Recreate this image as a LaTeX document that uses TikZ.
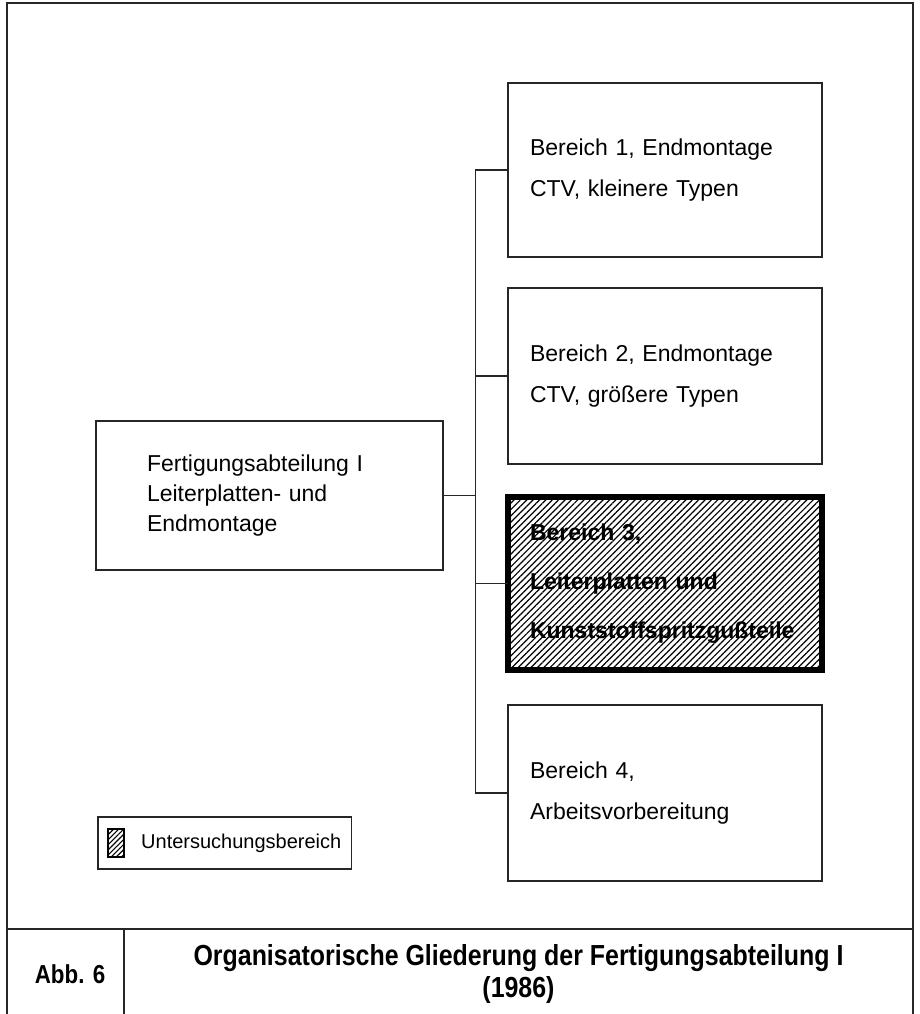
\documentclass[tikz,border=0pt]{standalone}
\usepackage{fontspec}
\setmainfont{Liberation Sans}
\newfontfamily\capfont[FakeStretch=0.86]{Liberation Sans}
\usetikzlibrary{%
	positioning,
	fit,
	calc,
	patterns.meta
}

\begin{document}
\begin{tikzpicture}[x=1pt,y=-1pt,
		bereich/.style={draw=black!85,line width=1.3pt,shape=rectangle,outer sep=0pt,minimum width=314pt,minimum height=176pt,text width=270pt,inner xsep=22pt,align=left,font=\fontsize{23}{41}\selectfont},
		focus/.style={bereich,draw=black,line width=6.5pt,pattern={Lines[angle=45,distance=4.5pt,line width=1.2pt]},font=\fontsize{23}{49}\selectfont\bfseries},
		swatch/.style={draw=black,line width=2.5pt,outer sep=0pt,minimum width=16pt,minimum height=28pt,pattern={Lines[angle=45,distance=3.6pt,line width=1.1pt]}},
		link/.style={draw=black!85,line width=1.2pt},
		outside/.style={draw=black!85,line width=1.3pt},
		caption/.style={font=\capfont\bfseries\fontsize{29}{32}\selectfont,align=center,inner sep=0pt}
	]
	\useasboundingbox (0,0) rectangle (919,1014);

	% frame and caption row
	\draw[outside] (7,1014) |- (913,3) -- (913,1014);
	\draw[outside] (7,929) -- (913,929);
	\draw[outside] (124,929) -- (124,1014);
	\node(abb) [caption, font=\capfont\bfseries\fontsize{26}{30}\selectfont] at (70,974) {Abb. 6};
	\node(title) [caption] at (518.5,974) {Organisatorische Gliederung der Fertigungsabteilung I\\(1986)};

	\node(main) [bereich, minimum width=347pt, minimum height=149pt, text width=245pt, inner xsep=51pt, font=\fontsize{23}{30}\selectfont] at (269.5,495.5) {Fertigungsabteilung I\\Leiterplatten- und\\Endmontage};

	\node(b1) [bereich, minimum height=174pt] at (665,170) {Bereich 1, Endmontage\\CTV, kleinere Typen};
	\node(b2) [bereich, below=31pt of b1] {Bereich 2, Endmontage\\CTV, größere Typen};
	\node(b3) [focus, minimum height=173pt, below=33pt of b2] {Bereich 3,\\Leiterplatten und\\Kunststoffspritzgußteile};
	\node(b4) [bereich, below=35pt of b3] {Bereich 4,\\Arbeitsvorbereitung};

	\coordinate (fork) at ($(main.east)!.5!(main.east -| b1.west)$);
	\draw[link] (main.east) -- (fork);
	\draw[link] (b1.west) -| (fork) |- (b4.west);
	\draw[link] (b2.west) -- (b2.west -| fork);
	\draw[link] (b3.west) -- (b3.west -| fork);

	% legend
	\node(key) [swatch] at (116,843) {};
	\node(key-text) [right=17pt of key, inner sep=0pt, font=\fontsize{20}{20}\selectfont] {Untersuchungsbereich};
	\node(legend) [outside, fit={(key) (key-text)}, inner xsep=10pt, inner ysep=12pt] {};
\end{tikzpicture}
\end{document}
